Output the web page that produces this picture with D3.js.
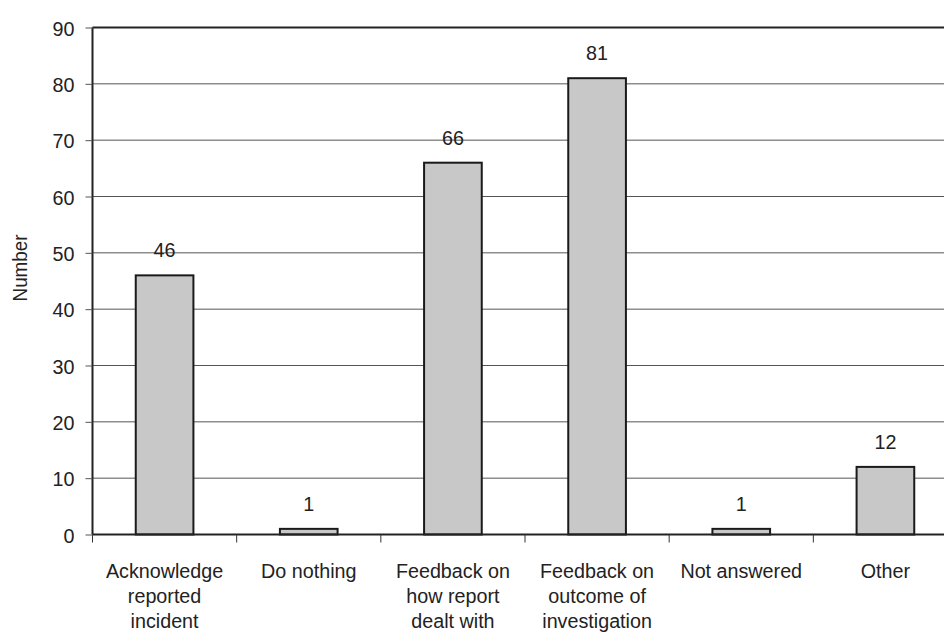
<!DOCTYPE html>
<html>
<head>
<meta charset="utf-8">
<script src="https://cdn.jsdelivr.net/npm/d3@7/dist/d3.min.js"></script>
<style>
  html, body { margin: 0; padding: 0; background: #fff; overflow: hidden; }
  svg { display: block; }
  text { font-family: "Liberation Sans", Arial, sans-serif; fill: #222; }
</style>
</head>
<body>
<svg id="chart" width="944" height="642"></svg>
<script>
const categories = [
  ["Acknowledge", "reported", "incident"],
  ["Do nothing"],
  ["Feedback on", "how report", "dealt with"],
  ["Feedback on", "outcome of", "investigation"],
  ["Not answered"],
  ["Other"]
];
const values = [46, 1, 66, 81, 1, 12];
const yTicks = [0, 10, 20, 30, 40, 50, 60, 70, 80, 90];

const FS = 21;        // label font size
const SX = 0.94;      // horizontal squeeze for a narrower face

const svg = d3.select("#chart");
const plotL = 92.5, plotT = 27.5, plotB = 534.5, plotR = 957.5;

const keys = categories.map((c, i) => i);
const x = d3.scaleBand().domain(keys).range([plotL, plotR]).paddingInner(0).paddingOuter(0);
const y = d3.scaleLinear().domain([0, 90]).range([plotB, plotT]);

// narrow text helper: places text at (px, py) squeezed horizontally
function narrow(sel, px, py) {
  return sel.attr("transform", (d, i) => `translate(${px(d, i)},${py(d, i)}) scale(${SX},1)`);
}

// horizontal gridlines
svg.append("g").selectAll("line").data(yTicks.filter(t => t > 0 && t < 90)).join("line")
  .attr("x1", plotL).attr("x2", plotR)
  .attr("y1", d => y(d)).attr("y2", d => y(d))
  .attr("stroke", "#555").attr("stroke-width", 1);

// top border
svg.append("line").attr("x1", plotL).attr("x2", plotR).attr("y1", plotT).attr("y2", plotT)
  .attr("stroke", "#222").attr("stroke-width", 2);

// bars
const barW = x.bandwidth() * 0.4;
svg.append("g").selectAll("rect").data(values).join("rect")
  .attr("x", (d, i) => x(i) + (x.bandwidth() - barW) / 2)
  .attr("width", barW)
  .attr("y", d => y(d))
  .attr("height", d => y(0) - y(d))
  .attr("fill", "#c8c8c8").attr("stroke", "#1a1a1a").attr("stroke-width", 2);

// value labels
narrow(svg.append("g").selectAll("text").data(values).join("text")
  .attr("text-anchor", "middle")
  .attr("font-size", FS)
  .text(d => d),
  (d, i) => x(i) + x.bandwidth() / 2, d => y(d) - 18);

// y axis
const yAxis = d3.axisLeft(y).tickValues(yTicks).tickSize(7).tickPadding(10).tickFormat(d3.format("d"));
const gy = svg.append("g").attr("transform", `translate(${plotL},0)`).call(yAxis);
gy.attr("font-family", null).attr("font-size", null);
gy.select(".domain").attr("stroke", "#222").attr("stroke-width", 2).attr("d", `M0,${plotT}V${plotB}`);
gy.selectAll(".tick line").attr("stroke", "#555");
gy.selectAll(".tick text")
  .attr("font-size", FS).attr("fill", "#222")
  .attr("x", null).attr("dy", "0.36em")
  .attr("transform", `translate(-18,0) scale(${SX},1)`);

// x axis
const gx = svg.append("g").attr("transform", `translate(0,${plotB})`);
gx.append("line").attr("x1", plotL).attr("x2", plotR).attr("stroke", "#222").attr("stroke-width", 2);
gx.selectAll("line.tk").data(keys).join("line").attr("class", "tk")
  .attr("x1", d => x(d)).attr("x2", d => x(d)).attr("y1", 0).attr("y2", 8)
  .attr("stroke", "#333").attr("stroke-width", 1);

const lbl = narrow(gx.selectAll("text.cat").data(categories).join("text").attr("class", "cat")
  .attr("text-anchor", "middle")
  .attr("font-size", FS),
  (d, i) => x(i) + x.bandwidth() / 2, () => 0);
lbl.selectAll("tspan").data(d => d).join("tspan")
  .attr("x", 0)
  .attr("y", (d, j) => 44 + j * 25)
  .text(d => d);

// y axis title
svg.append("text")
  .attr("transform", `translate(27,268) rotate(-90) scale(${SX},1)`)
  .attr("text-anchor", "middle")
  .attr("font-size", 20)
  .text("Number");
</script>
</body>
</html>
